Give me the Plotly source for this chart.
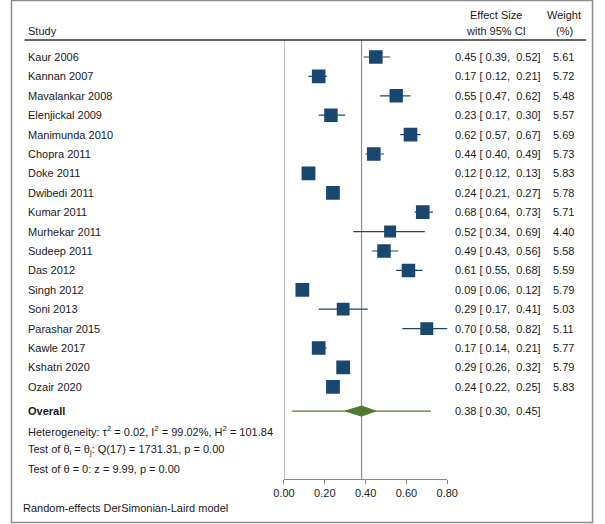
import numpy as np
import plotly.graph_objects as go

# study data
studies = ["Kaur 2006", "Kannan 2007", "Mavalankar 2008", "Elenjickal 2009",
           "Manimunda 2010", "Chopra 2011", "Doke 2011", "Dwibedi 2011",
           "Kumar 2011", "Murhekar 2011", "Sudeep 2011", "Das 2012",
           "Singh 2012", "Soni 2013", "Parashar 2015", "Kawle 2017",
           "Kshatri 2020", "Ozair 2020"]
effect = [0.45, 0.17, 0.55, 0.23, 0.62, 0.44, 0.12, 0.24, 0.68, 0.52,
          0.49, 0.61, 0.09, 0.29, 0.70, 0.17, 0.29, 0.24]
ci_low = [0.39, 0.12, 0.47, 0.17, 0.57, 0.40, 0.12, 0.21, 0.64, 0.34,
          0.43, 0.55, 0.06, 0.17, 0.58, 0.14, 0.26, 0.22]
ci_high = [0.52, 0.21, 0.62, 0.30, 0.67, 0.49, 0.13, 0.27, 0.73, 0.69,
           0.56, 0.68, 0.12, 0.41, 0.82, 0.21, 0.32, 0.25]
weight = [5.61, 5.72, 5.48, 5.57, 5.69, 5.73, 5.83, 5.78, 5.71, 4.40,
          5.58, 5.59, 5.79, 5.03, 5.11, 5.77, 5.79, 5.83]

# overall (random effects) and prediction interval
overall = 0.38
overall_low = 0.30
overall_high = 0.45
pred_low = 0.04
pred_high = 0.72

stats_lines = [
    "Heterogeneity: τ<sup>2</sup> = 0.02, I<sup>2</sup> = 99.02%, H<sup>2</sup> = 101.84",
    "Test of θ<sub>i</sub> = θ<sub>j</sub>: Q(17) = 1731.31, p = 0.00",
    "Test of θ = 0: z = 9.99, p = 0.00",
]
tick_vals = [0.0, 0.2, 0.4, 0.6, 0.8]
tick_text = ["0.00", "0.20", "0.40", "0.60", "0.80"]

# page geometry (pixels)
W, H = 605, 524
row0_px, row_step = 57, 19.4
axis_px = 479
x0_px, x1_px = 283.3, 452.7

navy = "#1a476f"
green = "#4f7a2f"
txt = "#1a1a1a"
font_family = "Liberation Sans, Arial, sans-serif"
fs = 11

n = len(studies)
rows = list(range(n))
overall_row = n + 0.25
stats_rows = [n + 1.3, n + 2.25, n + 3.25]


def px_to_row(px):
    return (px - row0_px) / row_step


y_top = px_to_row(0)
y_bot = px_to_row(axis_px)
header_row = px_to_row(40)

fig = go.Figure()

# confidence interval lines
ci_x, ci_y = [], []
for i in rows:
    ci_x += [ci_low[i], ci_high[i], None]
    ci_y += [i, i, None]
fig.add_trace(go.Scatter(x=ci_x, y=ci_y, mode="lines",
                         line=dict(color=navy, width=1.2),
                         hoverinfo="skip", showlegend=False))

# weighted squares
sizes = [13.8 * np.sqrt(w / max(weight)) for w in weight]
fig.add_trace(go.Scatter(x=effect, y=rows, mode="markers",
                         marker=dict(symbol="square", size=sizes, color=navy,
                                     opacity=1, line=dict(width=0)),
                         showlegend=False))

# prediction interval line and overall diamond
fig.add_trace(go.Scatter(x=[pred_low, pred_high], y=[overall_row, overall_row],
                         mode="lines", line=dict(color=green, width=1.2),
                         hoverinfo="skip", showlegend=False))
dh = 0.26
fig.add_trace(go.Scatter(
    x=[overall_low, overall, overall_high, overall, overall_low],
    y=[overall_row, overall_row - dh, overall_row, overall_row + dh, overall_row],
    mode="lines", fill="toself", fillcolor=green,
    line=dict(color=green, width=1), hoverinfo="skip", showlegend=False))

# vertical lines: null (x=0) and overall effect
fig.add_shape(type="line", x0=0, x1=0, y0=header_row, y1=y_bot,
              xref="x", yref="y", line=dict(color="#a0a0a8", width=1.2),
              layer="below")
fig.add_shape(type="line", x0=overall, x1=overall, y0=header_row, y1=y_bot,
              xref="x", yref="y", line=dict(color="#b0808f", width=1.2),
              layer="below")

# header rule and outer frame
fig.add_shape(type="line", x0=14 / W, x1=597 / W, y0=header_row, y1=header_row,
              xref="paper", yref="y", line=dict(color="#333333", width=1.5))
fig.add_shape(type="rect", x0=0.5 / W, x1=1 - 1.5 / W, y0=1.5 / H, y1=1 - 0.5 / H,
              xref="paper", yref="paper", line=dict(color="#8c8c8c", width=1.5))

annotations = []


def add_text(text, x_px, y, xanchor="left", yref="y", bold=False):
    if bold:
        text = "<b>" + text + "</b>"
    annotations.append(dict(text=text, x=x_px / W, xref="paper", y=y, yref=yref,
                            xanchor=xanchor, yanchor="middle", showarrow=False,
                            font=dict(family=font_family, size=fs, color=txt)))


# column headers
add_text("Study", 16, px_to_row(31))
add_text("Effect Size", 503, px_to_row(15), xanchor="center")
add_text("with 95% CI", 503, px_to_row(31), xanchor="center")
add_text("Weight", 574, px_to_row(15), xanchor="center")
add_text("(%)", 574, px_to_row(31), xanchor="center")

# study rows
for i in rows:
    add_text(studies[i], 16, i)
    add_text(f"{effect[i]:.2f} [ {ci_low[i]:.2f},  {ci_high[i]:.2f}]", 459, i)
    add_text(f"{weight[i]:.2f}", 573, i, xanchor="center")

add_text("Overall", 16, overall_row, bold=True)
add_text(f"{overall:.2f} [ {overall_low:.2f},  {overall_high:.2f}]", 459, overall_row)
for r, s in zip(stats_rows, stats_lines):
    add_text(s, 16, r)
add_text("Random-effects DerSimonian-Laird model", 10, 1 - 508 / H, yref="paper")

fig.update_layout(
    width=W, height=H,
    margin=dict(l=0, r=0, t=0, b=0),
    paper_bgcolor="white", plot_bgcolor="white",
    annotations=annotations,
    font=dict(family=font_family, size=fs, color=txt),
    xaxis=dict(domain=[x0_px / W, x1_px / W], range=[0, 0.8],
               tickvals=tick_vals, ticktext=tick_text,
               showgrid=False, zeroline=False, showline=True,
               linecolor="#888888", linewidth=1.2,
               ticks="outside", ticklen=4, tickcolor="#888888",
               tickfont=dict(family=font_family, size=fs, color=txt)),
    yaxis=dict(domain=[1 - axis_px / H, 1], range=[y_bot, y_top],
               showgrid=False, zeroline=False, showline=False,
               showticklabels=False, ticks=""),
)

fig.write_html("out.html", config={"displayModeBar": False},
               post_script="document.body.style.margin='0';")
